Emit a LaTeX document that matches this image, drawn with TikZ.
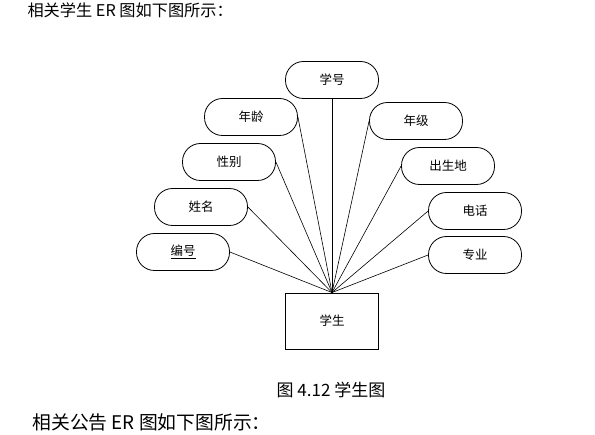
\documentclass[tikz,border=0pt]{standalone}
\usepackage{fontspec}
\setmainfont{Noto Sans CJK SC}
\usetikzlibrary{positioning}

\begin{document}
\begin{tikzpicture}[
  x=1pt, y=-1pt,
  attr/.style={draw, line width=0.8pt, rounded corners=18pt, minimum width=93pt, minimum height=37pt, inner sep=0pt, font=\fontsize{12.5}{14}\selectfont},
  ent/.style={draw, line width=0.9pt, minimum width=93pt, minimum height=56pt, inner sep=0pt, font=\fontsize{12.5}{14}\selectfont},
  link/.style={line width=0.6pt}
  ]
  \useasboundingbox (0,0) rectangle (595,435);
  % running text
  \node[anchor=west, font=\fontsize{16.2}{19}\selectfont] (intro) at (24,10) {相关学生 ER 图如下图所示：};
  \node[font=\fontsize{17}{20}\selectfont] (cap) at (331,390) {图 4.12 学生图};
  \node[anchor=west, font=\fontsize{18.8}{22}\selectfont] (next) at (29,422) {相关公告 ER 图如下图所示：};
  % entity
  \node[ent] (stu) at (332,321) {学生};
  % attributes, left side
  \node[attr] (age) at (251,117) {年龄};
  \node[attr] (sex) at (229,162) {性别};
  \node[attr] (name) at (201,207) {姓名};
  \node[attr] (no) at (183,252) {\underline{编号}};
  % attributes, top and right side
  \node[attr] (sid) at (332,80) {学号};
  \node[attr] (grade) at (416,121) {年级};
  \node[attr] (birth) at (448,166) {出生地};
  \node[attr] (tel) at (475,211) {电话};
  \node[attr] (major) at (475,255) {专业};
  % links
  \foreach \a in {age, sex, name, no} \draw[link] (\a.east) -- (stu.north);
  \foreach \a in {grade, birth, tel, major} \draw[link] (\a.west) -- (stu.north);
  \draw[link] (sid.south) -- (stu.north);
\end{tikzpicture}
\end{document}
